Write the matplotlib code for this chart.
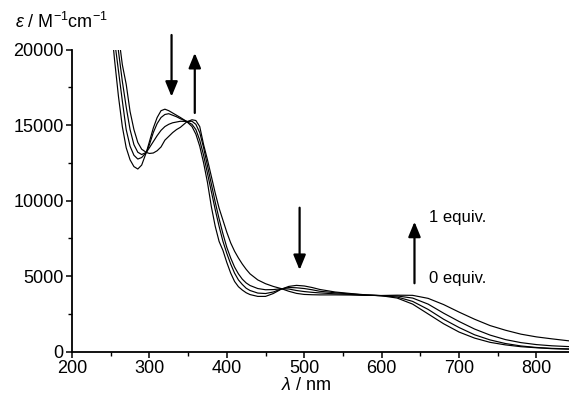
import matplotlib
matplotlib.use("Agg")
import matplotlib.pyplot as plt
from matplotlib.ticker import MultipleLocator

plt.rcParams['font.family'] = ['Liberation Sans', 'DejaVu Sans']
plt.rcParams['mathtext.fontset'] = 'custom'
plt.rcParams['mathtext.rm'] = 'Liberation Sans'
plt.rcParams['mathtext.it'] = 'Liberation Sans:italic'
plt.rcParams['mathtext.bf'] = 'Liberation Sans:bold'

# wavelength grid (nm)
wavelength = [250, 255, 260, 265, 270, 275, 280, 285, 290, 296, 300, 305, 310, 315, 320,
              325, 330, 335, 340, 348, 355, 360, 365, 370, 375, 380, 385, 390, 395, 400,
              405, 410, 415, 420, 425, 430, 440, 450, 460, 470, 480, 490, 500, 510, 520,
              540, 560, 580, 600, 620, 640, 660, 680, 700, 720, 740, 760, 780, 800, 820, 845]

# 0 equiv.
eps_0 = [22000, 19300, 16900, 14900, 13500, 12700, 12250, 12090, 12350, 13190, 13900, 14800, 15500, 15950, 16050,
         15950, 15800, 15650, 15500, 15240, 14900, 14400, 13600, 12500, 11200, 9600, 8300, 7300, 6700, 5900,
         5200, 4650, 4300, 4080, 3900, 3780, 3660, 3660, 3850, 4130, 4320, 4390, 4350, 4250, 4120,
         3950, 3850, 3760, 3700, 3550, 3150, 2500, 1850, 1300, 900, 620, 450, 330, 260, 200, 160]

# 1/3 equiv.
eps_1 = [23500, 20600, 18600, 16600, 14700, 13600, 13000, 12750, 12850, 13190, 13700, 14500, 15100, 15500, 15700,
         15750, 15650, 15550, 15420, 15240, 15050, 14700, 14000, 13000, 11800, 10600, 9400, 8300, 7300, 6500,
         5800, 5200, 4750, 4450, 4200, 4050, 3880, 3850, 3950, 4150, 4250, 4230, 4180, 4100, 4000,
         3900, 3820, 3750, 3710, 3620, 3330, 2800, 2150, 1600, 1120, 780, 540, 380, 280, 220, 180]

# 2/3 equiv.
eps_2 = [25000, 22200, 19900, 17900, 16200, 14700, 13700, 13200, 13050, 13190, 13500, 13900, 14300, 14650, 14900,
         15050, 15150, 15200, 15250, 15240, 15250, 15050, 14500, 13500, 12300, 11100, 9900, 8800, 7800, 6900,
         6200, 5600, 5150, 4800, 4550, 4380, 4180, 4100, 4110, 4170, 4150, 4050, 3980, 3930, 3890,
         3830, 3790, 3740, 3710, 3690, 3550, 3150, 2550, 2000, 1500, 1100, 800, 600, 470, 390, 330]

# 1 equiv.
eps_3 = [27000, 24000, 21000, 19000, 17700, 15900, 14700, 13850, 13400, 13190, 13120, 13150, 13300, 13550, 14000,
         14250, 14500, 14700, 14850, 15200, 15350, 15300, 14900, 13700, 12700, 11600, 10500, 9500, 8700, 7900,
         7200, 6650, 6200, 5800, 5450, 5150, 4750, 4500, 4320, 4180, 4000, 3860, 3790, 3770, 3760,
         3760, 3750, 3730, 3720, 3740, 3730, 3530, 3120, 2620, 2150, 1730, 1420, 1160, 980, 850, 700]

series = [eps_0, eps_1, eps_2, eps_3]

x_ticks = [200, 300, 400, 500, 600, 700, 800]
y_ticks = [0, 5000, 10000, 15000, 20000]

fig = plt.figure(figsize=(5.69, 3.98), dpi=100)
ax = fig.add_axes([72 / 569, (398 - 351.7) / 398, 497 / 569, (351.7 - 49.5) / 398])

for s in series:
    ax.plot(wavelength, s, color='black', lw=0.85)

ax.set_xlim(200, 842)
ax.set_ylim(0, 20000)
ax.set_xticks(x_ticks)
ax.set_yticks(y_ticks)
ax.set_xticklabels([str(v) for v in x_ticks])
ax.set_yticklabels([str(v) for v in y_ticks])
ax.xaxis.set_minor_locator(MultipleLocator(50))
ax.yaxis.set_minor_locator(MultipleLocator(2500))
ax.tick_params(which='major', direction='out', length=4, width=1.1, labelsize=13, pad=2, colors='black')
ax.tick_params(which='minor', direction='out', length=3, width=1.0)
for side in ['top', 'right']:
    ax.spines[side].set_visible(False)
for side in ['left', 'bottom']:
    ax.spines[side].set_linewidth(1.3)

ax.set_xlabel(r'$\lambda$ / nm', fontsize=13, labelpad=0)
ax.xaxis.set_label_coords((306 - 72) / 497, -0.085)
fig.text(15 / 569, 1 - 28 / 398, r'$\varepsilon$ / M$^{-1}$cm$^{-1}$', fontsize=13, va='baseline', ha='left')

arrow_kw = dict(arrowstyle='-|>,head_length=0.9,head_width=0.37', lw=1.6, color='black',
                shrinkA=0, shrinkB=0, mutation_scale=10)
ax.annotate('', xy=(328.6, 16880), xytext=(328.6, 20960), arrowprops=arrow_kw, annotation_clip=False)
ax.annotate('', xy=(358.6, 19770), xytext=(358.6, 15800), arrowprops=arrow_kw, annotation_clip=False)
ax.annotate('', xy=(494, 5410), xytext=(494, 9530), arrowprops=arrow_kw, annotation_clip=False)
ax.annotate('', xy=(642.4, 8600), xytext=(642.4, 4530), arrowprops=arrow_kw, annotation_clip=False)

ax.text(661.7, 8600, '1 equiv.', fontsize=12, va='baseline', ha='left')
ax.text(661.7, 4530, '0 equiv.', fontsize=12, va='baseline', ha='left')

fig.savefig('out.png', dpi=100)
